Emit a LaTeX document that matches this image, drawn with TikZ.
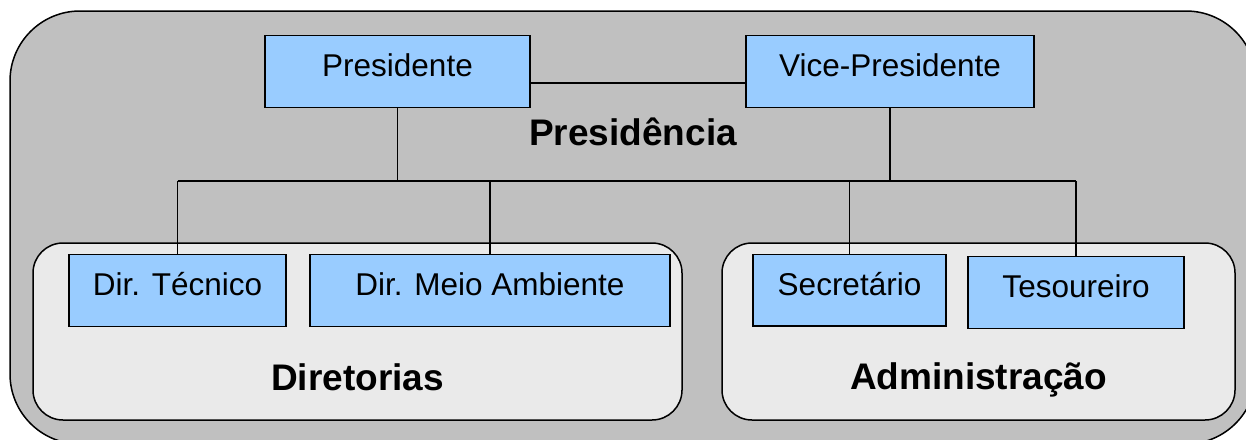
\documentclass[tikz,border=0pt]{standalone}
\usepackage{fontspec}
\setmainfont{Liberation Sans}
\definecolor{outerbg}{HTML}{C0C0C0}
\definecolor{innerbg}{HTML}{EAEAEA}
\definecolor{boxblue}{HTML}{99CCFF}
\tikzset{
  orgbox/.style={draw=black, fill=boxblue, line width=1.5pt, inner sep=0pt, anchor=base,
    font=\fontsize{31.5}{31.5}\selectfont, text height=40.5pt, text depth=31.5pt},
  grouplabel/.style={anchor=base, inner sep=0pt, font=\fontsize{37}{37}\selectfont\bfseries},
  conn/.style={line width=1.6pt, draw=black},
  container/.style={draw=black, line width=1.5pt}
}
\begin{document}
\begin{tikzpicture}[x=1pt,y=-1pt]
\useasboundingbox (0,0) rectangle (1246,439);
\clip (0,0) rectangle (1246,439);
% outer container
\draw[container, fill=outerbg, rounded corners=70pt] (10,11) rectangle (1256,444);
% inner containers
\draw[container, fill=innerbg, rounded corners=30pt] (33,243) rectangle (682,420);
\draw[container, fill=innerbg, rounded corners=30pt] (722,243) rectangle (1235,420);
% group labels
\node[grouplabel] (lpres) at (633,145.5) {Presidência};
\node[grouplabel] (ldir) at (357.5,390) {Diretorias};
\node[grouplabel] (ladm) at (978.5,389.5) {Administração};
% boxes
\node[orgbox, minimum width=265pt] (pres) at (397.5,76) {Presidente};
\node[orgbox, minimum width=288pt] (vp) at (890,76) {Vice-Presidente};
\node[orgbox, minimum width=217pt] (dt) at (177.5,295) {Dir. Técnico};
\node[orgbox, minimum width=360pt] (dma) at (490,295) {Dir. Meio Ambiente};
\node[orgbox, minimum width=193pt, text depth=31pt] (sec) at (849.5,295) {Secretário};
\node[orgbox, minimum width=216pt] (tes) at (1076,297) {Tesoureiro};
% connectors
\coordinate (hl) at (0,83);
\coordinate (busL) at (177.5,181);
\coordinate (busR) at (1076,181);
\draw[conn] (pres.east |- hl) -- (vp.west |- hl);
\draw[conn] (pres.south) -- (pres.south |- busL);
\draw[conn] (vp.south) -- (vp.south |- busL);
\draw[conn] (busL) -- (busR);
\draw[conn] (dt.north) -- (dt.north |- busL);
\draw[conn] (dma.north) -- (dma.north |- busL);
\draw[conn] (sec.north) -- (sec.north |- busL);
\draw[conn] (tes.north) -- (tes.north |- busR);
\end{tikzpicture}
\end{document}
